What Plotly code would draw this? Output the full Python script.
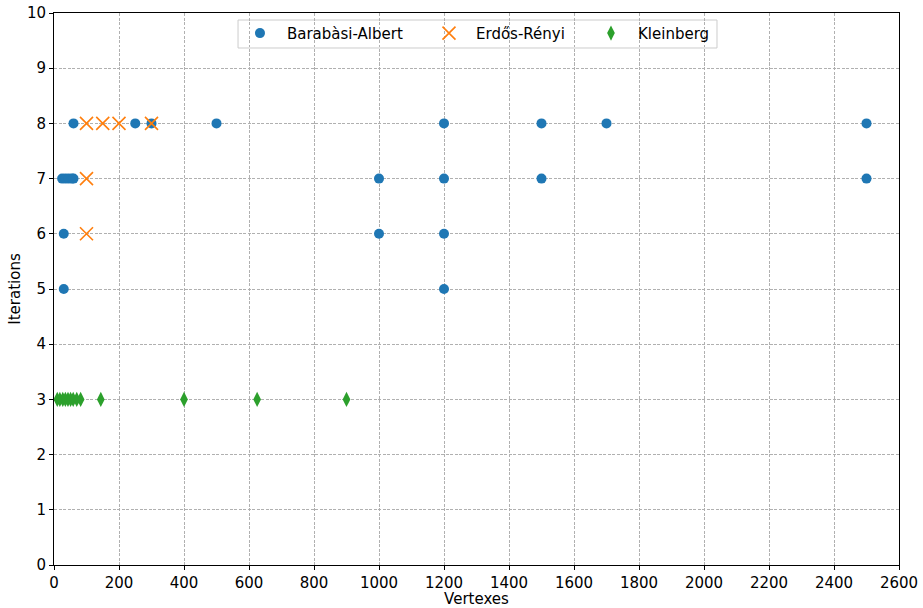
import plotly.graph_objects as go

ba_x = [60, 250, 300, 500, 1200, 1500, 1700, 2500,
        25, 35, 45, 55, 60, 1000, 1200, 1500, 2500,
        30, 1000, 1200,
        30, 1200]
ba_y = [8, 8, 8, 8, 8, 8, 8, 8,
        7, 7, 7, 7, 7, 7, 7, 7, 7,
        6, 6, 6,
        5, 5]

er_x = [100, 150, 200, 300, 100, 100]
er_y = [8, 8, 8, 8, 7, 6]

kl_x = [10, 18, 27, 35, 43, 51, 59, 70, 82, 144, 400, 625, 900]
kl_y = [3] * len(kl_x)

x_ticks = list(range(0, 2601, 200))
y_ticks = list(range(0, 11))

fig = go.Figure()
fig.add_trace(go.Scatter(x=ba_x, y=ba_y, mode="markers", name="Barabàsi-Albert",
                         legend="legend", showlegend=True,
                         marker=dict(symbol="circle", size=10, color="#1f77b4")))
fig.add_trace(go.Scatter(x=er_x, y=er_y, mode="markers", name="Erdős-Rényi",
                         legend="legend2", showlegend=True,
                         marker=dict(symbol="x-thin-open", size=13, color="#ff7f0e",
                                     line=dict(width=1.6, color="#ff7f0e"))))
fig.add_trace(go.Scatter(x=kl_x, y=kl_y, mode="markers", name="Kleinberg",
                         legend="legend3", showlegend=True,
                         marker=dict(symbol="diamond-tall", size=11, color="#2ca02c")))

axis_common = dict(showline=True, linecolor="black", linewidth=1, mirror=True,
                   ticks="outside", ticklen=4, tickcolor="black",
                   showgrid=True, gridcolor="#b0b0b0", griddash="3px,1.5px", gridwidth=0.8,
                   zeroline=False, automargin=False,
                   tickfont=dict(size=15, color="black"))

# legend frame (decoration)
fig.add_shape(type="rect", xref="paper", yref="paper",
              x0=0.2178, x1=0.7846, y0=0.9366, y1=0.9873,
              line=dict(color="#cccccc", width=1), fillcolor="white",
              layer="between")

leg_common = dict(orientation="h", xanchor="left", y=0.993, yanchor="top",
                  bgcolor="rgba(0,0,0,0)", borderwidth=0, visible=True,
                  font=dict(size=15), itemwidth=44)

fig.update_layout(
    width=923, height=608,
    margin=dict(l=54, r=24, t=13, b=43),
    plot_bgcolor="white", paper_bgcolor="white",
    showlegend=True,
    font=dict(family="DejaVu Sans", size=15, color="black"),
    xaxis=dict(range=[0, 2600], tickvals=x_ticks,
               title=dict(text="Vertexes", standoff=3, font=dict(size=15)), **axis_common),
    yaxis=dict(range=[0, 10], tickvals=y_ticks,
               title=dict(text="Iterations", standoff=2, font=dict(size=15)), **axis_common),
    legend=dict(x=0.2118, **leg_common),
    legend2=dict(x=0.4355, **leg_common),
    legend3=dict(x=0.6272, **leg_common),
)

fig.write_html("out.html", config={"displayModeBar": False},
               post_script="document.body.style.margin='0';")
